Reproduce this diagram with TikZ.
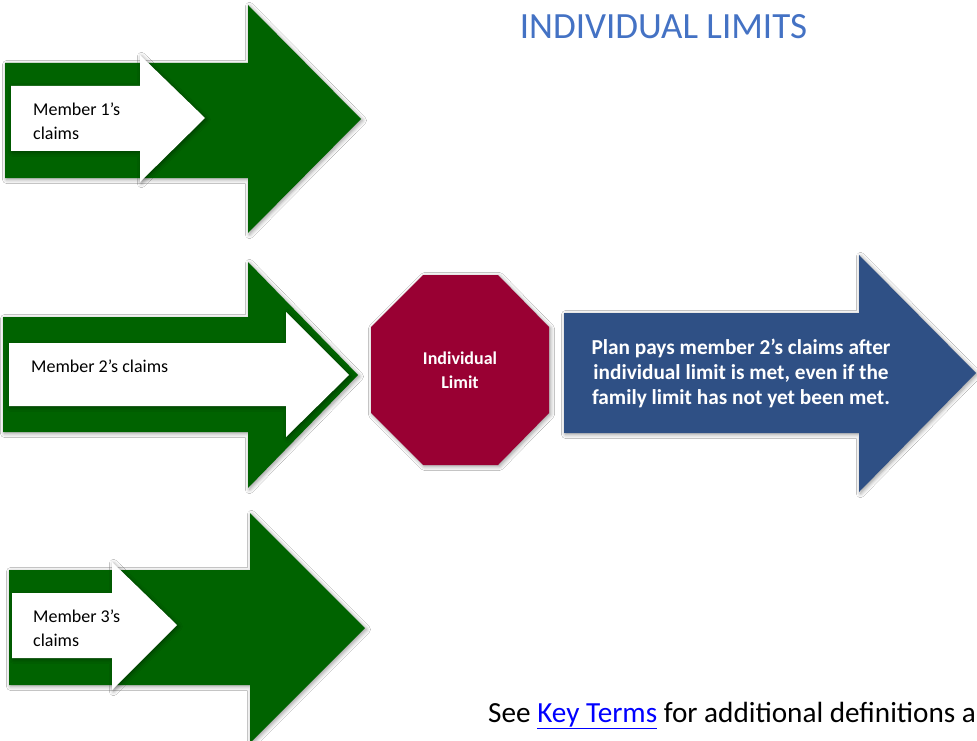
\documentclass[tikz,border=0pt]{standalone}
\usepackage{fontspec}
\setmainfont{Carlito}
\usetikzlibrary{shadows.blur}
\definecolor{arrgreen}{RGB}{0,99,0}
\definecolor{stopred}{RGB}{153,0,51}
\definecolor{paysblue}{RGB}{47,80,133}
\definecolor{titleblue}{RGB}{68,114,196}
\definecolor{linkblue}{RGB}{0,0,255}
\begin{document}
\begin{tikzpicture}[x=1pt,y=-1pt,
  shade/.style={blur shadow={shadow blur steps=6, shadow xshift=1.5pt, shadow yshift=-1.5pt, shadow blur radius=4pt, shadow opacity=40}},
  greenarrow/.style={fill=arrgreen, shade},
  whitearrow/.style={fill=white, shade},
  memtext/.style={anchor=west, align=left, font=\fontsize{18}{24}\selectfont, inner sep=0pt},
  boldwhite/.style={align=center, text=white, font=\bfseries\fontsize{18}{24}\selectfont, inner sep=0pt}
]
\useasboundingbox (0,0) rectangle (977,741);
\clip (0,0) rectangle (977,741);
\fill[white] (0,0) rectangle (977,741);

% title
\node[anchor=base, text=titleblue, font=\fontsize{37}{42}\selectfont, inner sep=0pt] (title) at (663.5,39) {INDIVIDUAL LIMITS};

% member 1
\path[greenarrow] (5,63) -- (248,63) -- (248,5) -- (361,119) -- (248,233) -- (248,178) -- (5,178) -- cycle;
\path[whitearrow] (11,86) -- (140,86) -- (140,55) -- (205,118) -- (140,182) -- (140,151) -- (11,151) -- cycle;
\node[memtext] (m1) at (33,121) {Member 1’s\\claims};

% member 2
\path[greenarrow] (3,317) -- (248,317) -- (248,262) -- (358,375) -- (248,488) -- (248,432) -- (3,432) -- cycle;
\path[whitearrow] (9,343) -- (286,343) -- (286,312) -- (349,375) -- (286,437) -- (286,406) -- (9,406) -- cycle;
\node[memtext] (m2) at (31,366) {Member 2’s claims};

% member 3
\path[greenarrow] (9,570) -- (250,570) -- (250,513) -- (365,628) -- (250,743) -- (250,685) -- (9,685) -- cycle;
\path[whitearrow] (12,593) -- (112,593) -- (112,562) -- (177,625) -- (112,690) -- (112,658) -- (12,658) -- cycle;
\node[memtext] (m3) at (33,628) {Member 3’s\\claims};

% individual limit octagon
\path[fill=stopred, shade] (423,275) -- (498,275) -- (549,327) -- (549,413) -- (498,465) -- (423,465) -- (371,413) -- (371,327) -- cycle;
\node[boldwhite] (lim) at (460,370) {Individual\\Limit};

% plan pays arrow
\path[fill=paysblue, shade] (564,313) -- (859,313) -- (859,255) -- (976,373) -- (859,492) -- (859,433) -- (564,433) -- cycle;
\node[boldwhite, font=\bfseries\fontsize{21.3}{25}\selectfont] (pay) at (741,373) {Plan pays member 2’s claims after\\individual limit is met, even if the\\family limit has not yet been met.};

% footer
\node[anchor=base west, inner sep=0pt, font=\fontsize{29.2}{34}\selectfont] (see) at (488,722) {See \textcolor{linkblue}{\underline{Key Terms}} for additional definitions a};
\end{tikzpicture}
\end{document}
